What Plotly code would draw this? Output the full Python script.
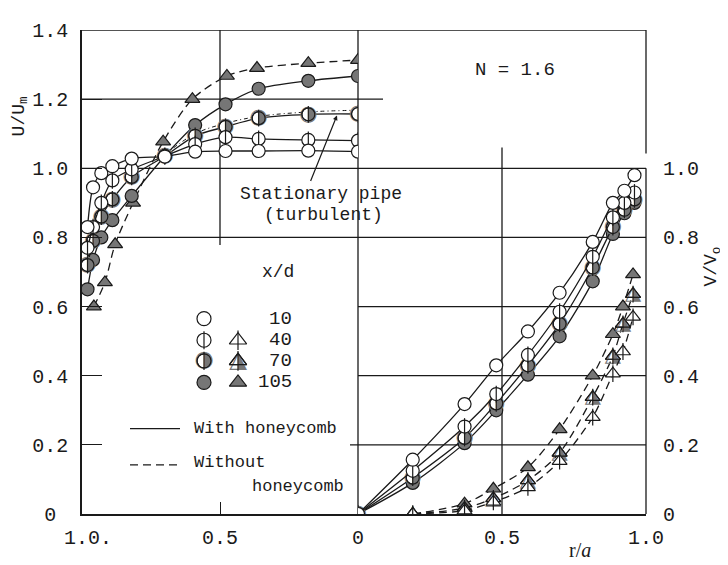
import plotly.graph_objects as go

# ---------------- data ----------------
# Left half: U/Um vs r/a  (with honeycomb, circles)
r_left = [0.98, 0.96, 0.93, 0.89, 0.82, 0.70, 0.59, 0.48, 0.36, 0.18, 0.0]
u_10 = [0.83, 0.945, 0.986, 1.006, 1.028, 1.034, 1.048, 1.050, 1.050, 1.051, 1.048]
u_40 = [0.77, 0.83, 0.90, 0.965, 0.997, 1.035, 1.07, 1.09, 1.085, 1.082, 1.08]
u_70 = [0.72, 0.79, 0.86, 0.91, 0.975, 1.035, 1.094, 1.12, 1.145, 1.156, 1.157]
u_105 = [0.65, 0.735, 0.80, 0.85, 0.92, 1.035, 1.125, 1.185, 1.23, 1.253, 1.267]
# Left half: without honeycomb, x/d = 105 (triangles)
r_left_tri = [0.957, 0.917, 0.88, 0.815, 0.706, 0.60, 0.475, 0.366, 0.18, 0.0]
u_105_tri = [0.60, 0.67, 0.78, 0.90, 1.077, 1.20, 1.267, 1.29, 1.304, 1.313]
# Stationary pipe (turbulent)
r_stat = [0.70, 0.59, 0.48, 0.36, 0.18, 0.0]
u_stat = [1.04, 1.10, 1.13, 1.15, 1.163, 1.168]

# Right half: V/Vo vs r/a (with honeycomb, circles)
r_right = [0.0, 0.19, 0.37, 0.48, 0.59, 0.70, 0.815, 0.885, 0.925, 0.96]
v_10 = [0.0, 0.157, 0.318, 0.43, 0.528, 0.64, 0.787, 0.90, 0.935, 0.98]
v_40 = [0.0, 0.125, 0.253, 0.347, 0.46, 0.585, 0.744, 0.858, 0.90, 0.93]
v_70 = [0.0, 0.105, 0.22, 0.32, 0.43, 0.55, 0.713, 0.83, 0.88, 0.91]
v_105 = [0.0, 0.09, 0.205, 0.30, 0.403, 0.514, 0.673, 0.81, 0.87, 0.90]
# Right half: without honeycomb (triangles)
r_right_tri = [0.19, 0.37, 0.47, 0.59, 0.70, 0.815, 0.885, 0.92, 0.955]
v_40_tri = [0.0, 0.01, 0.035, 0.077, 0.153, 0.28, 0.406, 0.47, 0.57]
v_70_tri = [0.0, 0.017, 0.045, 0.097, 0.177, 0.338, 0.457, 0.55, 0.636]
v_105_tri = [0.0, 0.03, 0.073, 0.135, 0.245, 0.40, 0.52, 0.60, 0.693]

x_ticks = [1.0, 0.5, 0.0]
x_ticktext_left = ["\u00a01.0.", "0.5", "0"]
x_ticks_right = [0.5, 1.0]
x_ticktext_right = ["0.5", "1.0"]
y_ticks_left = [0, 0.2, 0.4, 0.6, 0.8, 1.0, 1.2, 1.4]
y_ticktext_left = ["0\u00a0", "0.2", "0.4", "0.6", "0.8", "1.0", "1.2", "1.4"]
y_ticks_right = [0, 0.2, 0.4, 0.6, 0.8, 1.0]
y_ticktext_right = ["0", "0.2", "0.4", "0.6", "0.8", "1.0"]
legend_xd = ["10", "40", "70", "105"]

# ---------------- style ----------------
INK = "#1a1a1a"
GRAY = "#767676"
MONO = "Liberation Mono, DejaVu Sans Mono, monospace"
MS = 13
# page offset (browser body margin)
OFF = 8
W, H = 728 - OFF, 565 - OFF
PL, PR, PT, PB = 82, 646, 21, 514   # plot area in page pixels

fig = go.Figure()


def add_series(x, y, xa, ya, kind, shape, dash="solid", ms=MS, lines=True):
    fill = GRAY if kind == "filled" else "white"
    fig.add_trace(go.Scatter(
        x=x, y=y, xaxis=xa, yaxis=ya, mode="lines+markers" if lines else "markers",
        line=dict(color=INK, width=1.3, dash=dash, shape="spline", smoothing=0.8),
        marker=dict(symbol=shape, size=ms, color=fill, line=dict(color=INK, width=1.2)),
        hoverinfo="skip", showlegend=False))
    if kind == "half":
        glyph = "\u25D1" if shape == "circle" else "\u25EE"
        fig.add_trace(go.Scatter(
            x=x, y=y, xaxis=xa, yaxis=ya, mode="text", text=[glyph] * len(x),
            textfont=dict(family="DejaVu Sans", size=ms + 8, color=GRAY),
            textposition="middle center", hoverinfo="skip", showlegend=False))
        fig.add_trace(go.Scatter(
            x=x, y=y, xaxis=xa, yaxis=ya, mode="markers",
            marker=dict(symbol=shape + "-open", size=ms, color=INK, line=dict(color=INK, width=1.2)),
            hoverinfo="skip", showlegend=False))
    if kind in ("bar", "half"):
        fig.add_trace(go.Scatter(
            x=x, y=y, xaxis=xa, yaxis=ya, mode="markers",
            marker=dict(symbol="line-ns", size=ms - 1, line=dict(color=INK, width=1.2)),
            hoverinfo="skip", showlegend=False))


# stationary pipe
fig.add_trace(go.Scatter(x=r_stat, y=u_stat, xaxis="x", yaxis="y", mode="lines",
                         line=dict(color=INK, width=1, dash="4px,3px,1px,3px", shape="spline"),
                         hoverinfo="skip", showlegend=False))
# left side
add_series(r_left_tri, u_105_tri, "x", "y", "filled", "triangle-up", dash="8px,5px")
add_series(r_left, u_105, "x", "y", "filled", "circle")
add_series(r_left, u_70, "x", "y", "half", "circle")
add_series(r_left, u_40, "x", "y", "bar", "circle")
add_series(r_left, u_10, "x", "y", "open", "circle")
# right side
add_series(r_right_tri, v_105_tri, "x2", "y", "filled", "triangle-up", dash="8px,5px")
add_series(r_right_tri, v_70_tri, "x2", "y", "half", "triangle-up", dash="8px,5px")
add_series(r_right_tri, v_40_tri, "x2", "y", "bar", "triangle-up", dash="8px,5px")
add_series(r_right, v_105, "x2", "y", "filled", "circle")
add_series(r_right, v_70, "x2", "y", "half", "circle")
add_series(r_right, v_40, "x2", "y", "bar", "circle")
add_series(r_right, v_10, "x2", "y", "open", "circle")

# ---------------- legend (pixel overlay axes over left half) ----------------
split = (358 - PL) / (PR - PL)
leg_rows_y = [315, 337, 358, 380]
kinds = ["open", "bar", "half", "filled"]
for i, lab in enumerate(legend_xd):
    add_series([204], [leg_rows_y[i]], "x3", "y3", kinds[i], "circle", lines=False, ms=14)
    if i > 0:
        add_series([238], [leg_rows_y[i]], "x3", "y3", kinds[i], "triangle-up", lines=False, ms=15)

fig.add_trace(go.Scatter(x=[130, 180], y=[427, 427], xaxis="x3", yaxis="y3", mode="lines",
                         line=dict(color=INK, width=1.3), hoverinfo="skip", showlegend=False))
fig.add_trace(go.Scatter(x=[130, 182], y=[464, 464], xaxis="x3", yaxis="y3", mode="lines",
                         line=dict(color=INK, width=1.3, dash="8px,5px"), hoverinfo="skip",
                         showlegend=False))

# ---------------- grid / frame shapes ----------------
L = dict(color=INK, width=1.3)
shapes = []
def px(xp):
    return (xp - PL) / (PR - PL)
def hline(y, x0, x1):
    shapes.append(dict(type="line", xref="paper", yref="y", x0=x0, x1=x1, y0=y, y1=y, line=L, layer="below"))
def vline(x, y0, y1):
    shapes.append(dict(type="line", xref="paper", yref="y", x0=x, x1=x, y0=y0, y1=y1, line=L, layer="below"))

hline(1.4, 0, 1)
hline(1.2, 0, px(383))
hline(1.0, 0, 1)
hline(0.8, px(117), 1)
hline(0.6, split, 1)
hline(0.4, split, 1)
hline(0.2, px(350), 1)
vline(split, 0, 1.4)
vline(px(220), 0.778, 1.4)
vline(px(502), 0, 1.06)
vline(1, 1.043, 1.4)
vline(1, 0, 1.0)

# ---------------- annotations ----------------
ann = []
def txt(x, y, s, size=19, xanchor="center", family=MONO, angle=0):
    ann.append(dict(xref="paper", yref="paper", x=px(x), y=(PB - y) / (PB - PT), text=s,
                    showarrow=False, xanchor=xanchor, yanchor="middle", textangle=angle,
                    font=dict(family=family, size=size, color=INK)))

txt(515, 62, "N = 1.6", size=19)
txt(238, 188, "Stationary pipe", size=18, xanchor="left")
txt(262, 209, "(turbulent)", size=18, xanchor="left")
txt(278, 268, "x/d", size=18)
for i, lab in enumerate(legend_xd):
    txt(294, leg_rows_y[i], lab, size=19, xanchor="right")
txt(192, 427, "With honeycomb", size=17, xanchor="left")
txt(192, 462, "Without", size=17, xanchor="left")
txt(250, 486, "honeycomb", size=17, xanchor="left")
txt(20, 109, "U/U<sub>m</sub>", size=18, angle=-90)
txt(713, 262, "V/V<sub>o</sub>", size=18, angle=-90)
txt(580, 551, "r/<i>a</i>", size=20, family="Liberation Serif, serif")

# pointer for stationary pipe
ann.append(dict(xref="paper", yref="paper", x=px(337), y=(PB - 108) / (PB - PT),
                axref="pixel", ayref="pixel", ax=-27, ay=67, text="", showarrow=True,
                arrowhead=2, arrowsize=0.8, arrowwidth=1.2, arrowcolor=INK))

fig.update_layout(
    width=W, height=H,
    margin=dict(l=PL - OFF, r=W - (PR - OFF), t=PT - OFF, b=H - (PB - OFF)),
    paper_bgcolor="white", plot_bgcolor="white",
    shapes=shapes, annotations=ann,
    font=dict(family=MONO, size=19, color=INK),
    xaxis=dict(domain=[0, split], range=[1.0, 0.0], tickvals=x_ticks, ticktext=x_ticktext_left,
               showgrid=False, zeroline=False, showline=True, linecolor=INK, linewidth=1.5,
               ticks="inside", ticklen=12, tickcolor=INK, anchor="y", ticklabelstandoff=4,
               tickfont=dict(family=MONO, size=20)),
    xaxis2=dict(domain=[split, 1], range=[0.0, 1.0], tickvals=x_ticks_right, ticktext=x_ticktext_right,
                showgrid=False, zeroline=False, showline=True, linecolor=INK, linewidth=1.5,
                ticks="", anchor="y", ticklabelstandoff=4, tickfont=dict(family=MONO, size=20)),
    yaxis=dict(range=[0, 1.4], tickvals=y_ticks_left, ticktext=y_ticktext_left,
               showgrid=False, zeroline=False, showline=True, linecolor=INK, linewidth=1.5,
               ticks="inside", ticklen=20, tickcolor=INK, anchor="x",
               ticklabelstandoff=8, tickfont=dict(family=MONO, size=20)),
    yaxis2=dict(range=[0, 1.4], tickvals=y_ticks_right, ticktext=y_ticktext_right,
                overlaying="y", side="right", anchor="x2", showgrid=False, zeroline=False,
                showline=False, ticks="", ticklabelstandoff=16, tickfont=dict(family=MONO, size=20)),
    xaxis3=dict(range=[PL, 358], overlaying="x", visible=False, anchor="y3"),
    yaxis3=dict(range=[PB, PT], overlaying="y", visible=False, anchor="x3"),
)
# dummy trace so yaxis2 shows
fig.add_trace(go.Scatter(x=[0.5], y=[0.5], xaxis="x2", yaxis="y2", mode="markers",
                         marker=dict(size=0.1, opacity=0), hoverinfo="skip", showlegend=False))

fig.write_html("out.html")
